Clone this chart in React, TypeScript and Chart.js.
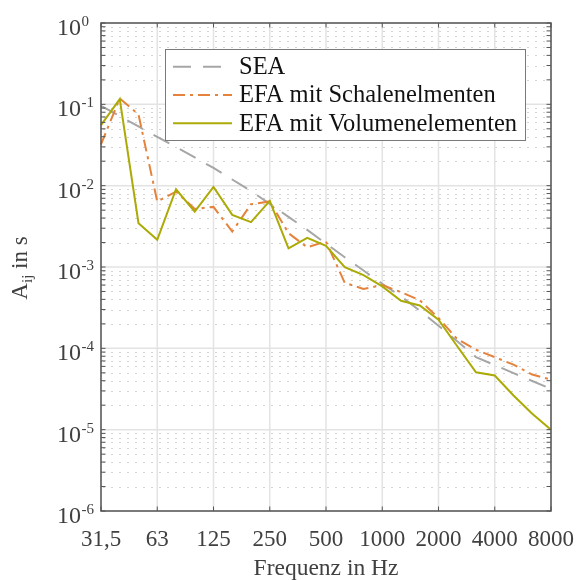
import React, { useEffect, useRef } from "react";
import { Chart, registerables } from "chart.js";

Chart.register(...registerables);

// Third-octave band centre frequencies (Hz)
const BANDS = ["31,5", "40", "50", "63", "80", "100", "125", "160", "200", "250", "315", "400", "500", "630", "800", "1000", "1250", "1600", "2000", "2500", "3150", "4000", "5000", "6300", "8000"];
const X_TICK_LABELS = ["31,5", "63", "125", "250", "500", "1000", "2000", "4000", "8000"];
const Y_EXPONENTS = [0, -1, -2, -3, -4, -5, -6];

const SEA = [0.0959, 0.0717, 0.0534, 0.0398, 0.0298, 0.0222, 0.0165, 0.0119, 0.0086, 0.00596, 0.00413, 0.00286, 0.00194, 0.00132, 0.000906, 0.000622, 0.000435, 0.00029, 0.00019, 0.000122, 7.8e-5, 6.22e-5, 4.96e-5, 3.97e-5, 3.18e-5];
const EFA_SCHALE = [0.0322, 0.118, 0.0752, 0.00637, 0.00845, 0.00518, 0.00548, 0.00273, 0.00591, 0.0064, 0.0026, 0.00175, 0.00206, 0.00064, 0.000536, 0.0006, 0.00049, 0.00039, 0.000236, 0.00013, 9.6e-5, 7.8e-5, 6.3e-5, 4.76e-5, 4.13e-5];
const EFA_VOLUMEN = [0.0556, 0.116, 0.00346, 0.00216, 0.00903, 0.0048, 0.00964, 0.00437, 0.00356, 0.0065, 0.0017, 0.00228, 0.00182, 0.000997, 0.000795, 0.000577, 0.000385, 0.000337, 0.000225, 0.000106, 5.08e-5, 4.63e-5, 2.63e-5, 1.57e-5, 1.0e-5];

const SERIES_NAMES = ["SEA", "EFA mit Schalenelmenten", "EFA mit Volumenelementen"];

const FONT = '"Liberation Serif", "Times New Roman", serif';
const AXIS_COLOR = "#555555";
const TEXT_COLOR = "#404040";

const framePlugin = {
  id: "framePlugin",
  beforeDatasetsDraw(chart: any) {
    const { ctx, chartArea: a, scales } = chart;
    const xs = scales.x;
    const ys = scales.y;
    ctx.save();
    ctx.lineWidth = 1;
    // minor dotted horizontal grid
    ctx.strokeStyle = "#d4d4d4";
    ctx.setLineDash([2, 6]);
    for (let e = -6; e < 0; e++) {
      for (let m = 2; m <= 9; m++) {
        const y = Math.round(ys.getPixelForValue(m * Math.pow(10, e))) + 0.5;
        ctx.beginPath();
        ctx.moveTo(a.left + 2, y);
        ctx.lineTo(a.right, y);
        ctx.stroke();
      }
    }
    ctx.setLineDash([]);
    ctx.strokeStyle = "#e3e3e3";
    ctx.lineWidth = 1.5;
    Y_EXPONENTS.forEach((e) => {
      const y = ys.getPixelForValue(Math.pow(10, e));
      ctx.beginPath();
      ctx.moveTo(a.left, y);
      ctx.lineTo(a.right, y);
      ctx.stroke();
    });
    BANDS.forEach((b, i) => {
      if (!X_TICK_LABELS.includes(b)) return;
      const x = xs.getPixelForValue(i);
      ctx.beginPath();
      ctx.moveTo(x, a.top);
      ctx.lineTo(x, a.bottom);
      ctx.stroke();
    });
    ctx.restore();
  },
  afterDatasetsDraw(chart: any) {
    const { ctx, chartArea: a, scales } = chart;
    const xs = scales.x;
    const ys = scales.y;
    ctx.save();
    // frame
    ctx.strokeStyle = AXIS_COLOR;
    ctx.lineWidth = 1.5;
    ctx.strokeRect(a.left, a.top, a.right - a.left, a.bottom - a.top);
    const tl = 4.5;
    ctx.lineWidth = 1;
    BANDS.forEach((b, i) => {
      if (!X_TICK_LABELS.includes(b)) return;
      const x = xs.getPixelForValue(i);
      ctx.beginPath();
      ctx.moveTo(x, a.bottom);
      ctx.lineTo(x, a.bottom - tl);
      ctx.moveTo(x, a.top);
      ctx.lineTo(x, a.top + tl);
      ctx.stroke();
    });
    for (let e = -6; e <= 0; e++) {
      for (let m = 1; m <= 9; m++) {
        if (e === 0 && m > 1) break;
        const y = ys.getPixelForValue(m * Math.pow(10, e));
        ctx.beginPath();
        ctx.moveTo(a.left, y);
        ctx.lineTo(a.left + tl, y);
        ctx.moveTo(a.right, y);
        ctx.lineTo(a.right - tl, y);
        ctx.stroke();
      }
    }
    // y tick labels 10^e
    ctx.fillStyle = TEXT_COLOR;
    ctx.textBaseline = "alphabetic";
    Y_EXPONENTS.forEach((e) => {
      const y = ys.getPixelForValue(Math.pow(10, e));
      ctx.font = `24px ${FONT}`;
      ctx.textAlign = "right";
      ctx.fillText("10", 81, y + 12);
      ctx.font = `15px ${FONT}`;
      ctx.textAlign = "left";
      ctx.fillText(e === 0 ? "0" : "-" + Math.abs(e), 81.5, y + 3);
    });
    // y axis title A_ij in s
    ctx.save();
    const cy = (a.top + a.bottom) / 2 + 1;
    ctx.translate(27, cy);
    ctx.rotate(-Math.PI / 2);
    ctx.font = `23px ${FONT}`;
    const wA = ctx.measureText("A").width;
    const wRest = ctx.measureText(" in s").width;
    ctx.font = `15px ${FONT}`;
    const wSub = ctx.measureText("ij").width;
    const total = wA + wSub + wRest;
    let sx = -total / 2;
    ctx.textAlign = "left";
    ctx.font = `23px ${FONT}`;
    ctx.fillText("A", sx, 0);
    sx += wA;
    ctx.font = `15px ${FONT}`;
    ctx.fillText("ij", sx, 5);
    sx += wSub;
    ctx.font = `23px ${FONT}`;
    ctx.fillText(" in s", sx, 0);
    ctx.restore();

    // legend
    const lx = 165.5, ly = 49.5, lw = 360, lh = 91;
    ctx.fillStyle = "#ffffff";
    ctx.fillRect(lx, ly, lw, lh);
    ctx.strokeStyle = "#7a7a7a";
    ctx.lineWidth = 1;
    ctx.strokeRect(lx, ly, lw, lh);
    const rows = [66.7, 95, 123.3];
    chart.data.datasets.forEach((ds: any, i: number) => {
      const y = rows[i];
      ctx.strokeStyle = ds.borderColor;
      ctx.lineWidth = ds.borderWidth;
      ctx.setLineDash(ds.borderDash || []);
      ctx.beginPath();
      ctx.moveTo(173, y);
      ctx.lineTo(232, y);
      ctx.stroke();
      ctx.setLineDash([]);
      ctx.fillStyle = "#111111";
      ctx.font = `24.5px ${FONT}`;
      ctx.textAlign = "left";
      ctx.textBaseline = "middle";
      ctx.fillText(ds.label, 239, y + 1);
    });
    ctx.restore();
  },
};

export default function App() {
  const ref = useRef<HTMLCanvasElement | null>(null);
  useEffect(() => {
    if (!ref.current) return;
    const chart = new Chart(ref.current, {
      type: "line",
      data: {
        labels: BANDS,
        datasets: [
          {
            label: SERIES_NAMES[0],
            data: SEA,
            borderColor: "#a6a6a6",
            borderWidth: 2,
            borderDash: [18, 12],
            pointRadius: 0,
            tension: 0,
            order: 2,
          },
          {
            label: SERIES_NAMES[1],
            data: EFA_SCHALE,
            borderColor: "#e5823b",
            borderWidth: 2,
            borderDash: [12, 5, 3, 5],
            pointRadius: 0,
            tension: 0,
            order: 1,
          },
          {
            label: SERIES_NAMES[2],
            data: EFA_VOLUMEN,
            borderColor: "#abaa06",
            borderWidth: 2,
            pointRadius: 0,
            tension: 0,
            order: 0,
          },
        ],
      },
      options: {
        animation: false,
        responsive: true,
        maintainAspectRatio: false,
        layout: { padding: { top: 23, right: 25, left: 0, bottom: 0 } },
        plugins: { legend: { display: false }, tooltip: { enabled: false } },
        scales: {
          x: {
            type: "category",
            offset: false,
            grid: { display: false },
            border: { display: false },
            ticks: {
              autoSkip: false,
              maxRotation: 0,
              minRotation: 0,
              padding: 7,
              color: TEXT_COLOR,
              font: { family: FONT, size: 23 },
              callback: (v: any, i: number) => (X_TICK_LABELS.includes(BANDS[i]) ? BANDS[i] : ""),
            },
            title: {
              display: true,
              text: "Frequenz in Hz",
              color: TEXT_COLOR,
              font: { family: FONT, size: 23.5 },
              padding: { top: 0, bottom: -3 },
            },
            afterFit: (s: any) => {
              s.height = 69;
              s.paddingLeft = 0;
              s.paddingRight = 0;
            },
          },
          y: {
            type: "logarithmic",
            min: 1e-6,
            max: 1,
            grid: { display: false },
            border: { display: false },
            ticks: { display: false },
            afterFit: (s: any) => {
              s.width = 101;
              s.paddingTop = 0;
              s.paddingBottom = 0;
            },
          },
        },
      },
      plugins: [framePlugin],
    } as any);
    return () => chart.destroy();
  }, []);
  return (
    <div style={{ position: "fixed", left: 0, top: 0, width: 576, height: 580, background: "#fff" }}>
      <canvas ref={ref} />
    </div>
  );
}
